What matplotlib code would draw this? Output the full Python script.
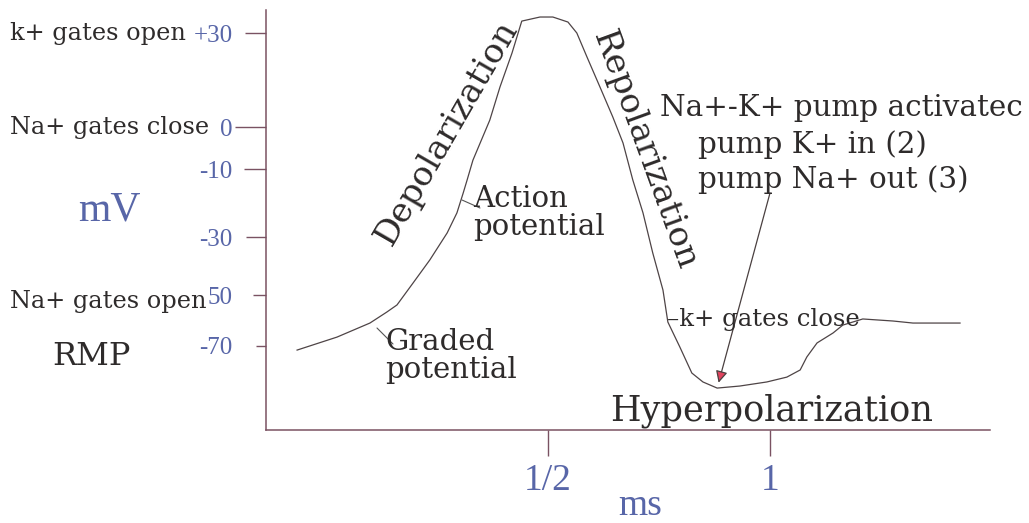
import numpy as np
import matplotlib
matplotlib.use("Agg")
import matplotlib.pyplot as plt

# ---- data (time in ms, membrane potential in mV) ----
time_ms = [-0.065, 0.025, 0.099, 0.137, 0.160, 0.196, 0.234, 0.273, 0.295, 0.309,
           0.318, 0.331, 0.369, 0.392, 0.419, 0.441, 0.482, 0.511, 0.545, 0.565,
           0.588, 0.617, 0.646, 0.669, 0.691, 0.714, 0.736, 0.759, 0.770, 0.797,
           0.824, 0.849, 0.881, 0.932, 0.993, 1.038, 1.068, 1.083, 1.106, 1.142,
           1.164, 1.209, 1.277, 1.322, 1.367, 1.428]
membrane_mv = [-71.6, -66.5, -61.0, -56.7, -53.9, -45.9, -37.9, -28.8, -22.9, -17.1,
               -13.2, -7.9, 2.2, 12.8, 23.6, 33.8, 35.1, 35.1, 33.5, 30.0,
               22.3, 12.8, 3.2, -3.8, -13.2, -22.9, -35.5, -48.3, -60.6, -70.4,
               -80.6, -84.1, -86.5, -85.7, -84.1, -82.2, -79.4, -74.3, -68.8, -64.9,
               -61.8, -59.4, -60.2, -61.0, -61.0, -61.0]

y_tick_values = [-70, -50, -30, -10, 0, 30]
y_tick_labels = ["-70", "50", "-30", "-10", "0", "+30"]
x_tick_values = [0.5, 1.0]
x_tick_labels = ["1/2", "1"]

# hand-drawn, non-uniform voltage axis of the sketch (mV -> drawing position)
scale_mv = [-110, -70, -50, -30, -10, 0, 30, 45]
scale_pos = [-18, 84, 135, 193, 261, 303, 397, 444]


def fwd(v):
    return np.interp(v, scale_mv, scale_pos)


def inv(p):
    return np.interp(p, scale_pos, scale_mv)


W, H = 1029, 523
BLACK = "#2e2b2b"
BLUE = "#5866a8"
AXC = "#7a5262"
SERIF = "DejaVu Serif"
BSERIF = "Liberation Serif"

fig = plt.figure(figsize=(W / 100, H / 100), dpi=100)
fig.patch.set_facecolor("white")
ax = fig.add_axes([266 / W, 1 - 430 / H, (990 - 266) / W, 420 / H])
ax.set_yscale("function", functions=(fwd, inv))
ax.set_ylim(float(inv(0)), float(inv(420)))
ax.set_xlim(-0.135, 1.4955)

ax.plot(time_ms, membrane_mv, color="#4e4446", lw=0.9, solid_joinstyle="round")

for s in ("top", "right"):
    ax.spines[s].set_visible(False)
for s in ("left", "bottom"):
    ax.spines[s].set_color(AXC)
    ax.spines[s].set_linewidth(1.1)

ax.set_yticks(y_tick_values, y_tick_labels)
ax.set_xticks(x_tick_values, x_tick_labels)
ax.tick_params(axis="y", direction="out", length=16, pad=8, width=1.0,
               color=AXC, labelcolor=BLUE, labelsize=18,
               labelfontfamily=BSERIF)
ax.tick_params(axis="x", direction="out", length=19, pad=5, width=1.0,
               color=AXC, labelcolor=BLUE, labelsize=27,
               labelfontfamily=BSERIF)
# uneven hand-drawn tick lengths
for tick, ln in zip(ax.yaxis.get_major_ticks(), [7, 9.5, 14.5, 16, 22, 15]):
    tick.tick1line.set_markersize(ln)


def ftxt(x, y, s, **kw):
    kw.setdefault("color", BLACK)
    kw.setdefault("family", SERIF)
    return fig.text(x / W, 1 - y / H, s, **kw)


# left-side annotations
ftxt(10, 40, "k+ gates open", fontsize=17.3, va="baseline")
ftxt(10, 134, "Na+ gates close", fontsize=17.3, va="baseline")
ftxt(10, 308, "Na+ gates open", fontsize=17.3, va="baseline")
ftxt(52, 365, "RMP", fontsize=23, va="baseline")
ftxt(109, 210, "mV", fontsize=30, color=BLUE, family=BSERIF, ha="center", va="center")
ftxt(640, 506, "ms", fontsize=27, color=BLUE, family=BSERIF, ha="center", va="center")

# phase labels along the curve
ftxt(447, 133, "Depolarization", fontsize=24.5, rotation=60, rotation_mode="anchor",
     ha="center", va="center")
ftxt(644, 150, "Repolarization", fontsize=24.5, rotation=-70, rotation_mode="anchor",
     ha="center", va="center")
ftxt(610, 421, "Hyperpolarization", fontsize=25.3, va="baseline")

ftxt(473, 235, "Action\npotential", fontsize=21, va="baseline", linespacing=0.98)
ftxt(385, 378, "Graded\npotential", fontsize=21, va="baseline", linespacing=0.98)

ftxt(660, 116, "Na+-K+ pump activatec", fontsize=21.2, va="baseline")
ftxt(698, 153, "pump K+ in (2)", fontsize=21.2, va="baseline")
ftxt(698, 188, "pump Na+ out (3)", fontsize=21.2, va="baseline")
ftxt(667, 326, "\u2013k+ gates close", fontsize=17.5, va="baseline")

# leader lines
lead = dict(arrowstyle="-", color="#555", lw=0.8, shrinkA=0, shrinkB=0)
ax.annotate("", xy=(377, H - 328), xycoords="figure pixels",
            xytext=(393, H - 344), textcoords="figure pixels", arrowprops=lead)
ax.annotate("", xy=(462, H - 200), xycoords="figure pixels",
            xytext=(480, H - 208), textcoords="figure pixels", arrowprops=lead)

# pump arrow pointing to the hyperpolarization trough
imin = int(np.argmin(membrane_mv))
ax.annotate("", xy=(time_ms[imin], membrane_mv[imin]), xycoords="data",
            xytext=(770, H - 193), textcoords="figure pixels",
            arrowprops=dict(arrowstyle="-|>,head_length=0.7,head_width=0.35",
                            facecolor="#e0435e", edgecolor="#4a4040", lw=0.9,
                            shrinkA=0, shrinkB=4))

fig.savefig("out.png", dpi=100, facecolor="white")
